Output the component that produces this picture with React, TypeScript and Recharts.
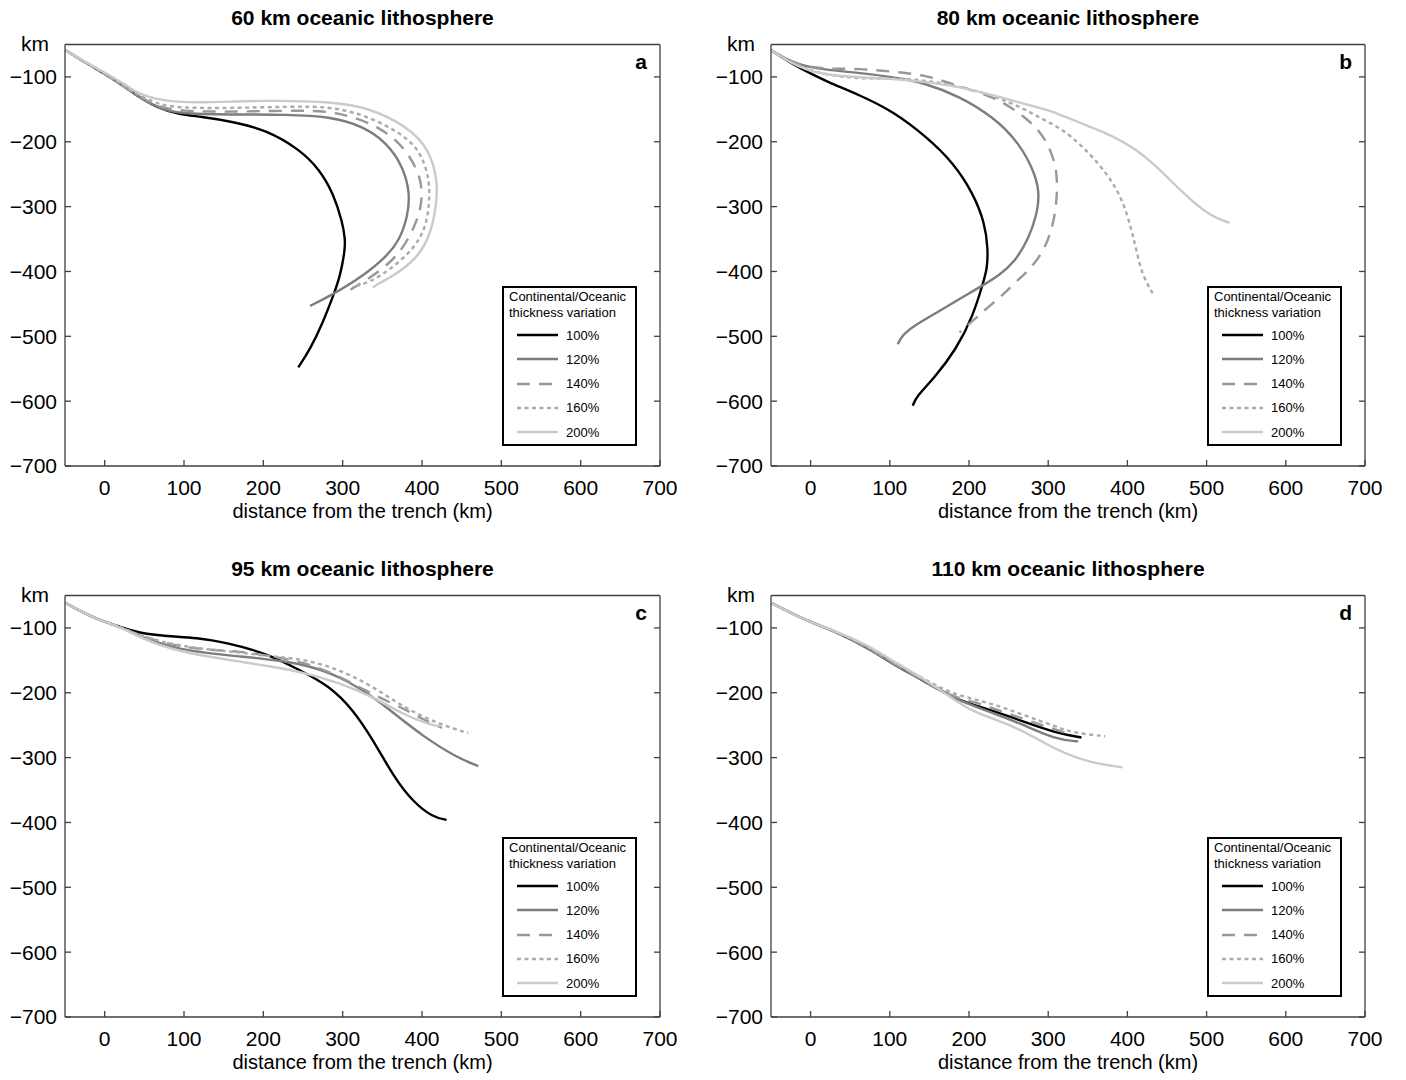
import React from 'react';
import { LineChart, Line, XAxis, YAxis, Legend } from 'recharts';

const FONT = '"Liberation Sans", Arial, Helvetica, sans-serif';
const AXIS = '#404040';

const X_TICKS = [0, 100, 200, 300, 400, 500, 600, 700];
const Y_TICKS = [-700, -600, -500, -400, -300, -200, -100];
const VARIATIONS = ['100%', '120%', '140%', '160%', '200%'];
const TITLES = ['60 km oceanic lithosphere', '80 km oceanic lithosphere', '95 km oceanic lithosphere', '110 km oceanic lithosphere'];
const LETTERS = ['a', 'b', 'c', 'd'];

// line look per thickness variation
const STYLES: Record<string, { color: string; dash?: string }> = {
  '100%': { color: '#000000' },
  '120%': { color: '#7d7d7d' },
  '140%': { color: '#989898', dash: '13 9' },
  '160%': { color: '#ababab', dash: '4 3.5' },
  '200%': { color: '#cacaca' },
};

// slab traces, [distance km, depth km]
// (a) 60 km
const a100 = [[-50, -58], [-23, -79], [7, -100], [36, -125], [66, -148], [95, -158], [120, -161], [162, -169], [204, -182], [246, -212], [271, -243], [288, -279], [300, -325], [303, -350], [303, -366], [297, -407], [288, -438], [275, -479], [259, -520], [244, -548]];
const a120 = [[-50, -58], [-23, -79], [7, -100], [36, -125], [66, -148], [95, -157], [158, -158], [230, -158], [284, -161], [326, -176], [356, -202], [376, -238], [385, -279], [382, -315], [372, -351], [356, -376], [326, -407], [284, -438], [259, -453]];
const a140 = [[-50, -58], [-23, -79], [7, -100], [36, -125], [66, -146], [95, -153], [160, -154], [255, -151], [297, -155], [347, -176], [381, -212], [400, -258], [400, -294], [393, -325], [376, -366], [351, -397], [310, -428]];
const a160 = [[-50, -58], [-23, -79], [7, -100], [36, -124], [66, -142], [95, -148], [160, -148], [230, -146], [284, -145], [334, -161], [381, -192], [401, -222], [410, -263], [409, -300], [404, -335], [389, -366], [360, -397], [334, -417], [312, -424]];
const a200 = [[-50, -58], [-23, -78], [7, -98], [30, -115], [44, -127], [78, -138], [120, -140], [204, -136], [288, -138], [334, -148], [381, -176], [410, -212], [420, -263], [418, -300], [410, -346], [393, -381], [364, -407], [343, -420], [338, -425]];

// (b) 80 km
const b100 = [[-51, -58], [-18, -84], [-1, -94], [20, -107], [62, -128], [104, -153], [146, -192], [180, -232], [205, -279], [220, -325], [224, -366], [223, -395], [218, -417], [205, -469], [184, -520], [155, -566], [134, -592], [129, -607]];
const b120 = [[-51, -58], [-18, -82], [20, -89], [62, -94], [104, -100], [146, -110], [188, -130], [230, -161], [264, -202], [285, -253], [289, -284], [285, -315], [275, -350], [258, -385], [238, -406], [218, -421], [190, -441], [160, -463], [130, -484], [116, -498], [110, -512]];
const b140 = [[-51, -58], [-18, -82], [20, -88], [62, -87], [104, -92], [146, -97], [188, -115], [230, -130], [264, -155], [293, -186], [310, -232], [312, -274], [308, -320], [298, -360], [281, -392], [260, -415], [243, -436], [224, -455], [205, -476], [188, -494]];
const b160 = [[-51, -58], [-18, -84], [20, -97], [62, -103], [104, -102], [146, -105], [188, -115], [230, -128], [273, -151], [289, -163], [315, -178], [344, -207], [374, -248], [394, -289], [405, -335], [411, -366], [419, -407], [434, -438]];
const b200 = [[-51, -58], [-18, -84], [20, -99], [104, -102], [188, -113], [273, -143], [302, -151], [340, -171], [365, -182], [407, -207], [437, -238], [470, -279], [504, -315], [529, -325]];

// (c) 95 km
const c100 = [[-50, -61], [-18, -83], [23, -100], [44, -108], [78, -113], [116, -115], [154, -123], [204, -139], [246, -165], [284, -190], [313, -226], [338, -272], [364, -329], [389, -369], [414, -392], [431, -396]];
const c120 = [[-50, -61], [-18, -83], [23, -100], [44, -113], [86, -131], [129, -139], [171, -144], [212, -149], [255, -157], [297, -175], [338, -206], [364, -231], [401, -267], [444, -300], [471, -313]];
const c140 = [[-50, -61], [-18, -83], [23, -100], [44, -112], [86, -127], [129, -134], [171, -136], [212, -144], [255, -154], [297, -175], [338, -203], [380, -226], [404, -243], [425, -254]];
const c160 = [[-50, -61], [-18, -83], [23, -100], [44, -112], [86, -126], [129, -133], [171, -138], [212, -144], [255, -149], [297, -165], [338, -190], [380, -225], [423, -249], [458, -262]];
const c200 = [[-50, -61], [-18, -83], [23, -100], [44, -115], [86, -134], [129, -144], [171, -152], [212, -160], [246, -167], [297, -185], [338, -206], [380, -236], [410, -249], [422, -252]];

// (d) 110 km
const d100 = [[-49, -62], [0, -92], [28, -103], [79, -135], [100, -153], [142, -181], [184, -211], [226, -226], [268, -244], [310, -262], [342, -269]];
const d120 = [[-49, -62], [0, -92], [28, -103], [79, -135], [100, -153], [142, -181], [184, -211], [226, -229], [268, -249], [310, -272], [338, -275]];
const d140 = [[-49, -62], [0, -92], [28, -103], [79, -134], [100, -152], [142, -180], [184, -209], [205, -213], [247, -231], [289, -249], [323, -262]];
const d160 = [[-49, -62], [0, -92], [28, -103], [79, -133], [100, -150], [142, -178], [180, -203], [226, -215], [268, -234], [310, -252], [331, -262], [372, -267]];
const d200 = [[-49, -62], [0, -92], [28, -103], [71, -126], [100, -148], [142, -178], [184, -213], [205, -229], [247, -247], [281, -267], [310, -288], [352, -308], [394, -315]];

const SERIES = [
  [a100, a120, a140, a160, a200],
  [b100, b120, b140, b160, b200],
  [c100, c120, c140, c160, c200],
  [d100, d120, d140, d160, d200],
];

// panel placement on the page
const PANEL_POS = [
  { left: 0, top: 0, width: 703 },
  { left: 706, top: 0, width: 700 },
  { left: 0, top: 551, width: 703 },
  { left: 706, top: 551, width: 700 },
];

const CHART_H = 540;
const M_TOP = 44.5;
const M_LEFT = 5;
const Y_W = 60;
const X_H = 64;
const M_BOTTOM = 10;

const toPts = (arr: number[][]) => arr.map(([x, y]) => ({ x, y }));
const minus = (v: number) => String(v).replace('-', '\u2212');
const noLabel = () => <g />;

function LegendBox() {
  return (
    <div
      style={{
        position: 'relative',
        width: 135,
        height: 160,
        boxSizing: 'border-box',
        border: '2px solid #000',
        background: '#fff',
        fontFamily: FONT,
        fontSize: 13,
        color: '#000',
      }}
    >
      <div style={{ position: 'absolute', left: 5, top: 1, lineHeight: '16px', whiteSpace: 'nowrap' }}>
        Continental/Oceanic
        <br />
        thickness variation
      </div>
      {VARIATIONS.map((v, i) => (
        <div
          key={v}
          style={{ position: 'absolute', left: 0, top: 35 + i * 24.3, height: 24, width: '100%', display: 'flex', alignItems: 'center' }}
        >
          <svg width={56} height={10} style={{ flexShrink: 0 }}>
            <line x1={13} y1={5} x2={54} y2={5} stroke={STYLES[v].color} strokeWidth={2.4} strokeDasharray={STYLES[v].dash} />
          </svg>
          <span style={{ marginLeft: 6 }}>{v}</span>
        </div>
      ))}
    </div>
  );
}

function Panel({ idx }: { idx: number }) {
  const pos = PANEL_POS[idx];
  const plotLeft = M_LEFT + Y_W;
  const marginRight = pos.left === 0 ? 43 : 41;
  const plotRight = pos.width - marginRight;
  const plotW = plotRight - plotLeft;
  const tickStyle = { fill: '#000', fontSize: 21, fontFamily: FONT };

  return (
    <div style={{ position: 'absolute', left: pos.left, top: pos.top, width: pos.width, height: CHART_H }}>
      <div
        style={{
          position: 'absolute', left: plotLeft, top: 6, width: plotW, textAlign: 'center',
          fontFamily: FONT, fontSize: 21, fontWeight: 'bold', lineHeight: '24px', color: '#000',
        }}
      >
        {TITLES[idx]}
      </div>
      <div
        style={{
          position: 'absolute', left: 0, top: 32, width: plotLeft - 16, textAlign: 'right',
          fontFamily: FONT, fontSize: 21, lineHeight: '24px', color: '#000',
        }}
      >
        km
      </div>
      <div
        style={{
          position: 'absolute', left: plotRight - 60, top: 50, width: 47, textAlign: 'right',
          fontFamily: FONT, fontSize: 21, fontWeight: 'bold', lineHeight: '24px', color: '#000', zIndex: 2,
        }}
      >
        {LETTERS[idx]}
      </div>
      <LineChart
        width={pos.width}
        height={CHART_H}
        margin={{ top: M_TOP, right: marginRight, left: M_LEFT, bottom: M_BOTTOM }}
      >
        <XAxis
          dataKey="x"
          type="number"
          domain={[-50, 700]}
          ticks={X_TICKS}
          interval={0}
          allowDataOverflow
          height={X_H}
          stroke={AXIS}
          strokeWidth={1.3}
          tickSize={-6}
          tickMargin={20}
          tick={tickStyle}
          label={{ value: 'distance from the trench (km)', position: 'insideBottom', offset: 12, fill: '#000', fontSize: 20, fontFamily: FONT }}
        />
        <XAxis
          xAxisId="top"
          orientation="top"
          mirror
          type="number"
          domain={[-50, 700]}
          ticks={X_TICKS}
          interval={0}
          allowDataOverflow
          stroke={AXIS}
          strokeWidth={1.3}
          tickSize={6}
          tick={noLabel}
        />
        <YAxis
          type="number"
          domain={[-700, -50]}
          ticks={Y_TICKS}
          interval={0}
          allowDataOverflow
          width={Y_W}
          stroke={AXIS}
          strokeWidth={1.3}
          tickSize={-6}
          tickMargin={14}
          tick={tickStyle}
          tickFormatter={minus}
        />
        <YAxis
          yAxisId="right"
          orientation="right"
          mirror
          type="number"
          domain={[-700, -50]}
          ticks={Y_TICKS}
          interval={0}
          allowDataOverflow
          stroke={AXIS}
          strokeWidth={1.3}
          tickSize={6}
          tick={noLabel}
        />
        {SERIES[idx].map((s, i) => {
          const v = VARIATIONS[i];
          return (
            <Line
              key={v}
              name={v}
              data={toPts(s)}
              dataKey="y"
              type="basis"
              stroke={STYLES[v].color}
              strokeWidth={2.4}
              strokeDasharray={STYLES[v].dash}
              dot={false}
              activeDot={false}
              isAnimationActive={false}
            />
          );
        })}
        <Legend
          layout="horizontal"
          align="center"
          verticalAlign="middle"
          content={() => <LegendBox />}
          wrapperStyle={{ left: plotRight - 158, top: 286, width: 135, height: 160 }}
        />
      </LineChart>
    </div>
  );
}

export default function App() {
  return (
    <div style={{ position: 'absolute', left: 0, top: 0, width: 1406, height: 1080, background: '#fff' }}>
      {[0, 1, 2, 3].map((i) => (
        <Panel key={i} idx={i} />
      ))}
    </div>
  );
}
